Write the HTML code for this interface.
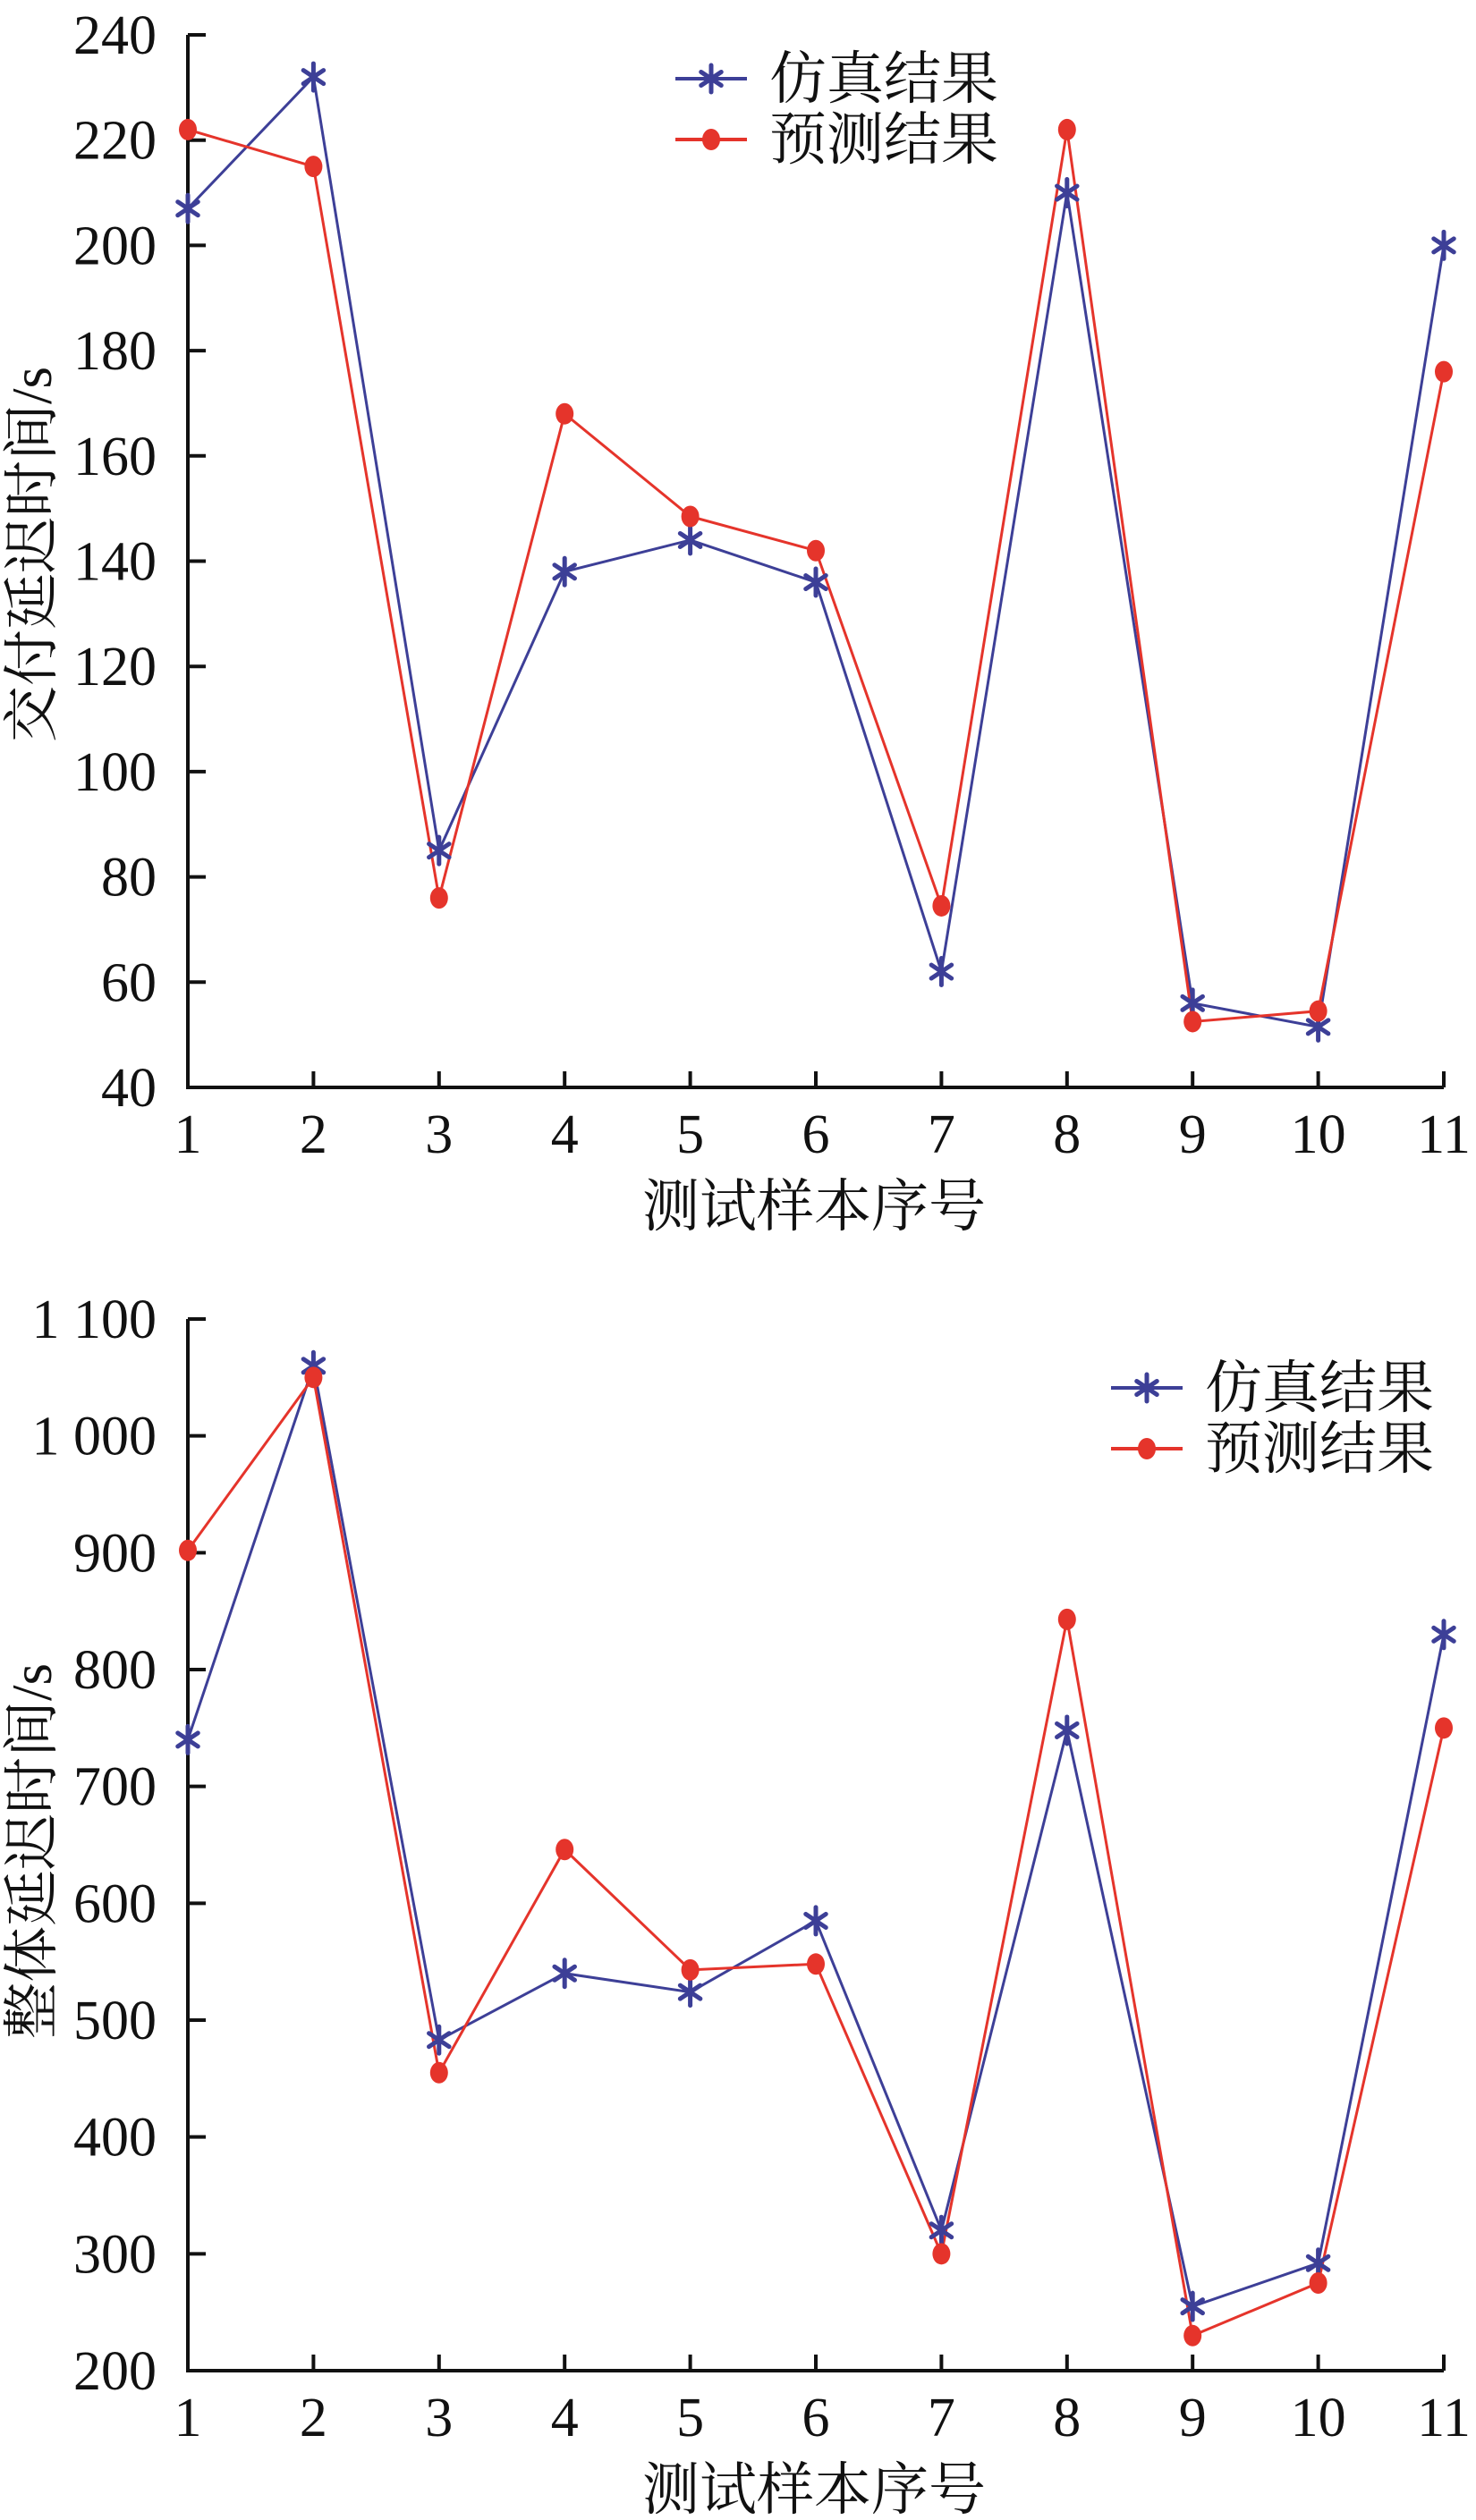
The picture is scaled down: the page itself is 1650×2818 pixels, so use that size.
<!DOCTYPE html>
<html><head><meta charset="utf-8"><style>
html,body{margin:0;padding:0;background:#fff;}
svg{display:block;}
text{font-family:"Liberation Serif","Noto Serif CJK SC","Noto Sans CJK SC",serif;fill:#111;}
</style></head><body>
<svg id="chart" width="1650" height="2818" viewBox="0 0 1650 2818" xmlns="http://www.w3.org/2000/svg"></svg>
<script>
const categories = [1,2,3,4,5,6,7,8,9,10,11];
const topSim = [207,232,85,138,144,136,62,210,56,51.5,200];
const topPred = [222,215,76,168,148.5,142,74.5,222,52.5,54.5,176];
const topTicks = [40,60,80,100,120,140,160,180,200,220,240];
const topTickLabels = ["40","60","80","100","120","140","160","180","200","220","240"];
const botSim = [740,1060,483,540,524,585,320,748,255,292,830];
const botPred = [902,1050,455,646,543,548,300,843,230,275,750];
const botTicks = [200,300,400,500,600,700,800,900,1000,1100];
const botTickLabels = ["200","300","400","500","600","700","800","900","1 000","1 100"];
const seriesNames = ["仿真结果","预测结果"];

const NS = "http://www.w3.org/2000/svg";
const svg = document.getElementById('chart');
const BLUE = "#3d3f97", RED = "#e5342b";
function mk(tag, attrs, parent){const e=document.createElementNS(NS,tag);for(const k in attrs)e.setAttribute(k,attrs[k]);(parent||svg).appendChild(e);return e;}

function star(g, x, y){
  const s = mk('g', {}, g);
  
  
  for(let i=0;i<3;i++){
    const a = Math.PI/2 + i*Math.PI/3;
    const dx = Math.cos(a)*13, dy = Math.sin(a)*15;
    mk('line',{x1:x-dx,y1:y-dy,x2:x+dx,y2:y+dy,stroke:BLUE,'stroke-width':5,'stroke-linecap':'round'},s);
  }
}
function dot(g, x, y){
  const c = mk('ellipse',{cx:x,cy:y,rx:10,ry:12,fill:RED},g);
  
  
}

function panel(cfg){
  const g = mk('g',{});
  
  
  const xs = v => cfg.x0 + (v-1)*(cfg.x1-cfg.x0)/10;
  const ys = v => cfg.yb - (v-cfg.vmin)*(cfg.yb-cfg.yt)/(cfg.vmax-cfg.vmin);
  const ax = mk('path',{d:`M${cfg.x0},${cfg.yt} V${cfg.yb} H${cfg.x1}`,fill:'none',stroke:'#111','stroke-width':4},g);
  
  
  cfg.ticks.forEach((t,i)=>{
    const y = ys(t);
    mk('line',{x1:cfg.x0,y1:y,x2:cfg.x0+20,y2:y,stroke:'#111','stroke-width':4},g);
    const tx = mk('text',{x:cfg.x0-35,y:y+21,'font-size':62,'text-anchor':'end'},g);
    tx.textContent = cfg.tickLabels[i];
    
    
  });
  categories.forEach(c=>{
    const x = xs(c);
    mk('line',{x1:x,y1:cfg.yb,x2:x,y2:cfg.yb-18,stroke:'#111','stroke-width':4},g);
    const tx = mk('text',{x:x,y:cfg.yb+73,'font-size':62,'text-anchor':'middle'},g);
    tx.textContent = String(c);
    
    
  });
  const xt = mk('text',{x:910,y:cfg.yb+155,'font-size':64,'text-anchor':'middle'},g);
  xt.textContent = "测试样本序号";
  
  
  const yt = mk('text',{x:0,y:0,'font-size':63,'text-anchor':'middle',transform:`translate(57,${cfg.ytitleY}) rotate(-90)`},g);
  yt.textContent = cfg.ytitle;
  
  
  const pl = (arr,col,nm)=>{
    const p = mk('polyline',{points:arr.map((v,i)=>xs(categories[i])+','+ys(v)).join(' '),fill:'none',stroke:col,'stroke-width':3},g);
    
    
  };
  pl(cfg.sim,BLUE,'sim-line');
  pl(cfg.pred,RED,'pred-line');
  cfg.sim.forEach((v,i)=>star(g,xs(categories[i]),ys(v)));
  cfg.pred.forEach((v,i)=>dot(g,xs(categories[i]),ys(v)));
  const lg = mk('g',{},g);
  
  
  const [lx,ly] = cfg.legend;
  const e1 = mk('g',{},lg);
  
  
  mk('line',{x1:lx,y1:ly,x2:lx+80,y2:ly,stroke:BLUE,'stroke-width':4},e1);
  star(e1,lx+40,ly);
  const t1 = mk('text',{x:lx+105,y:ly+22,'font-size':64},e1); t1.textContent = seriesNames[0];
  const e2 = mk('g',{},lg);
  
  
  mk('line',{x1:lx,y1:ly+68,x2:lx+80,y2:ly+68,stroke:RED,'stroke-width':4},e2);
  dot(e2,lx+40,ly+68);
  const t2 = mk('text',{x:lx+105,y:ly+90,'font-size':64},e2); t2.textContent = seriesNames[1];
}

panel({name:'top-chart',x0:210,x1:1614,yt:39,yb:1216,vmin:40,vmax:240,ticks:topTicks,tickLabels:topTickLabels,
  sim:topSim,pred:topPred,ytitle:"交付延迟时间/s",ytitleY:620,legend:[755,88]});
panel({name:'bottom-chart',x0:210,x1:1614,yt:1475,yb:2651,vmin:200,vmax:1100,ticks:botTicks,tickLabels:botTickLabels,
  sim:botSim,pred:botPred,ytitle:"整体延迟时间/s",ytitleY:2070,legend:[1242,1552]});
</script>
</body></html>
